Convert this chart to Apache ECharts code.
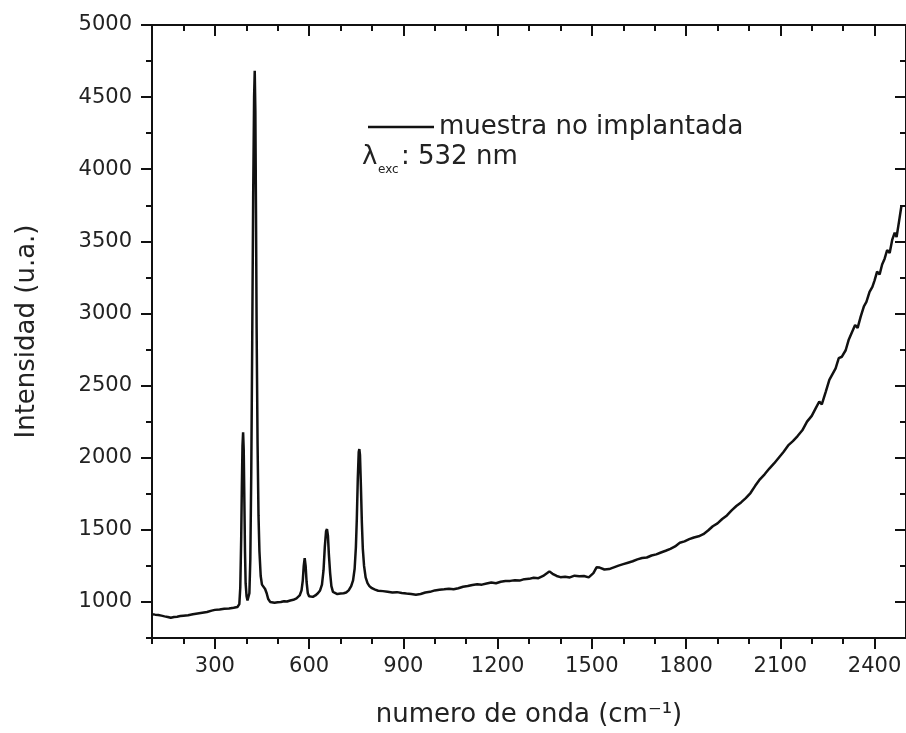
<!DOCTYPE html>
<html>
<head>
<meta charset="utf-8">
<script src="https://cdn.jsdelivr.net/npm/echarts@6/dist/echarts.min.js"></script>
<style>
html,body{margin:0;padding:0;background:#fff;}
#chart{width:906px;height:733px;}
</style>
</head>
<body>
<div id="chart"></div>
<script>
// Wavenumber (cm^-1)
const waveNumber = [
100,110,120,130,140,150,160,170,180,190,200,215,230,245,260,275,290,300,315,330,345,360,372,378,
381,384,386,388,390,392,394,396,398,401,404,407,410,413,416,419,422,425,427,429,431,433,436,439,442,446,450,455,460,465,470,476,482,490,
500,510,520,530,540,550,560,570,576,580,583,586,589,592,596,600,606,612,620,628,635,641,646,650,654,657,660,663,667,671,676,682,690,
700,710,718,726,734,740,745,749,752,755,758,760,762,765,768,771,775,780,786,792,800,810,820,835,850,865,880,895,910,925,940,955,970,985,
1000,1015,1030,1045,1060,1075,1090,1105,1120,1135,1150,1165,1180,1195,1210,1225,1240,1255,1270,1285,1300,1315,1330,1345,1358,1365,1375,1388,
1400,1415,1430,1445,1460,1475,1490,1505,1515,1525,1540,1555,1570,1585,1600,1615,1630,1645,1660,1675,1690,1705,1720,1735,1750,1765,1780,1795,
1810,1825,1840,1855,1870,1885,1900,1915,1930,1945,1960,1975,1990,2005,2020,2035,2050,2065,2080,2095,2110,2125,2140,2155,2170,2185,2200,2212,
2224,2232,2245,2256,2266,2276,2286,2296,2308,2318,2328,2338,2346,2356,2366,2374,2384,2393,2400,2408,2416,2424,2432,2440,2448,2456,2464,2470,2478,2485
];
// Intensity (u.a.) - muestra no implantada
const intensity = [
915,912,910,905,900,896,890,895,898,902,905,908,915,920,925,930,940,945,948,952,955,960,965,985,
1100,1450,1800,2080,2176,2050,1700,1350,1130,1040,1010,1010,1060,1300,1900,2800,3800,4500,4683,4400,3700,2900,2100,1600,1350,1180,1120,1110,1090,1060,1020,1000,990,995,
998,1000,1005,1003,1010,1015,1025,1045,1080,1150,1250,1303,1250,1140,1060,1040,1030,1035,1045,1060,1080,1120,1220,1380,1490,1505,1460,1330,1200,1110,1070,1060,1055,
1058,1060,1065,1080,1110,1150,1230,1380,1580,1850,2040,2060,2020,1800,1550,1370,1250,1170,1130,1110,1095,1085,1078,1075,1070,1065,1068,1062,1058,1055,1050,1055,1065,1070,
1080,1085,1088,1092,1088,1095,1105,1110,1118,1122,1120,1128,1135,1130,1140,1145,1146,1150,1148,1158,1160,1168,1165,1180,1200,1212,1195,1180,
1172,1175,1170,1182,1178,1180,1170,1200,1240,1238,1225,1228,1240,1252,1262,1272,1282,1295,1305,1308,1322,1330,1343,1355,1368,1385,1410,1420,
1435,1447,1455,1470,1495,1525,1545,1575,1600,1635,1665,1690,1720,1755,1805,1850,1885,1925,1960,2000,2040,2085,2115,2150,2190,2250,2290,2340,
2390,2370,2460,2540,2580,2620,2690,2700,2745,2820,2870,2920,2900,2980,3050,3080,3150,3185,3230,3290,3270,3340,3380,3440,3420,3510,3560,3530,3640,3740
];
const seriesName = 'muestra no implantada';
const xMajorTicks = [300,600,900,1200,1500,1800,2100,2400];
const xMinorTicks = [100,200,400,500,700,800,1000,1100,1300,1400,1600,1700,1900,2000,2200,2300];
const yMajorTicks = [1000,1500,2000,2500,3000,3500,4000,4500,5000];
const yMinorTicks = [750,1250,1750,2250,2750,3250,3750,4250,4750];
const xRange = [100, 2500];
const yRange = [750, 5000];

const FONT = 'DejaVu Sans';
const TXT = '#222';
const data = waveNumber.map((x, i) => [x, intensity[i]]);
const plain = v => String(Math.round(v));

function xAx(pos, ticks, len, inside, labels, extra) {
  return Object.assign({
    type: 'value', position: pos, min: xRange[0], max: xRange[1],
    axisLine: { show: true, onZero: false, lineStyle: { color: '#111', width: 2 } },
    axisTick: { show: true, inside: inside, length: len, customValues: ticks, lineStyle: { color: '#111', width: 2 } },
    axisLabel: labels ? { show: true, customValues: ticks, formatter: plain, fontFamily: FONT, fontSize: 21, color: TXT, margin: 18 } : { show: false },
    splitLine: { show: false }
  }, extra || {});
}
function yAx(pos, ticks, len, inside, labels, extra) {
  return Object.assign({
    type: 'value', position: pos, min: yRange[0], max: yRange[1],
    axisLine: { show: true, onZero: false, lineStyle: { color: '#111', width: 2 } },
    axisTick: { show: true, inside: inside, length: len, customValues: ticks, lineStyle: { color: '#111', width: 2 } },
    axisLabel: labels ? { show: true, customValues: ticks, formatter: plain, fontFamily: FONT, fontSize: 21, color: TXT, margin: 20 } : { show: false },
    splitLine: { show: false }
  }, extra || {});
}

const chart = echarts.init(document.getElementById('chart'), null, { renderer: 'canvas' });
chart.setOption({
  animation: false,
  backgroundColor: '#fff',
  grid: { left: 152, top: 25, right: -5, bottom: 95, containLabel: false },
  legend: {
    data: [seriesName], left: 363, top: 109,
    itemWidth: 66, itemHeight: 14, itemGap: 6,
    textStyle: { fontFamily: FONT, fontSize: 26, color: TXT },
    icon: 'path://M0,6 L66,6 L66,8.5 L0,8.5 Z',
    itemStyle: { color: '#111' }
  },
  xAxis: [
    xAx('bottom', xMajorTicks, 11, false, true, {
      name: 'numero de onda (cm\u207B\u00B9)', nameLocation: 'middle', nameGap: 64,
      nameTextStyle: { fontFamily: FONT, fontSize: 26, color: TXT, verticalAlign: 'top' }
    }),
    xAx('bottom', xMinorTicks, 6, false, false),
    xAx('top', xMajorTicks, 11, true, false),
    xAx('top', xMinorTicks, 6, true, false)
  ],
  yAxis: [
    yAx('left', yMajorTicks, 11, false, true, {
      name: 'Intensidad (u.a.)', nameLocation: 'middle', nameGap: 112,
      nameTextStyle: { fontFamily: FONT, fontSize: 26, color: TXT }
    }),
    yAx('left', yMinorTicks, 6, false, false),
    yAx('right', yMajorTicks, 11, true, false),
    yAx('right', yMinorTicks, 6, true, false)
  ],
  series: [{
    name: seriesName, type: 'line', xAxisIndex: 0, yAxisIndex: 0,
    data: data, showSymbol: false, symbol: 'none',
    lineStyle: { color: '#111', width: 2.5 }, itemStyle: { color: '#111' },
    clip: true
  }],
  graphic: [
    { type: 'text', left: 362, top: 144, style: { text: 'λ', font: '26px "DejaVu Sans"', fill: TXT } },
    { type: 'text', left: 378, top: 164, style: { text: 'exc', font: '12px "DejaVu Sans"', fill: TXT } },
    { type: 'text', left: 401, top: 144, style: { text: ': 532 nm', font: '26px "DejaVu Sans"', fill: TXT } }
  ]
});
</script>
</body>
</html>
